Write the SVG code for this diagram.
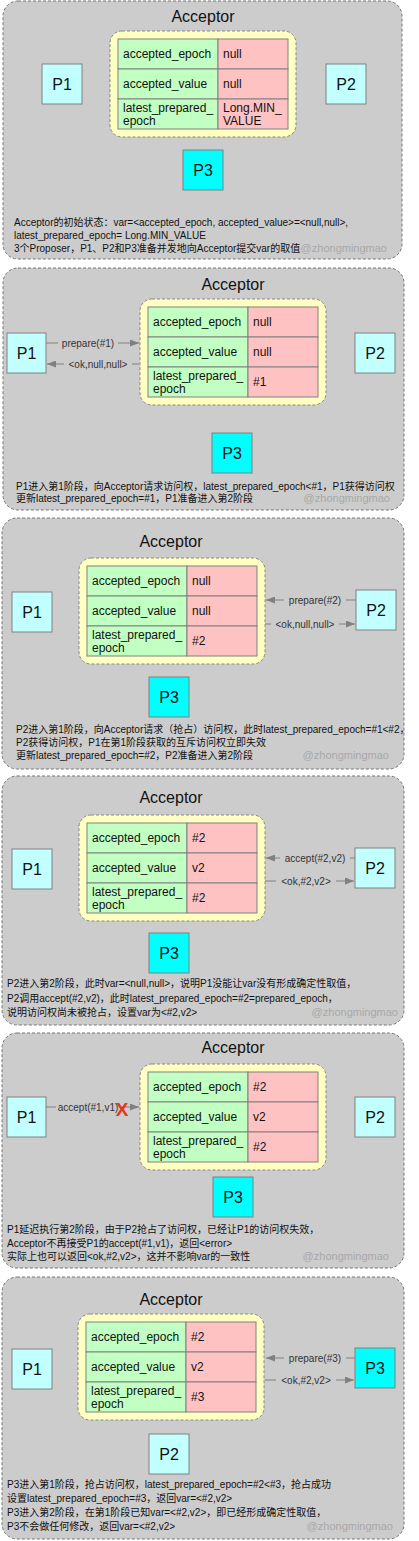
<svg xmlns="http://www.w3.org/2000/svg" width="419" height="1541" viewBox="0 0 419 1541">
<defs>
<style>
.panel{fill:#cccccc;stroke:#777777;stroke-width:1;stroke-dasharray:3,2}
.yel{fill:#ffffc2;stroke:#888888;stroke-width:1;stroke-dasharray:3,2}
.k{fill:#c2ffc2;stroke:#808080;stroke-width:1}
.v{fill:#ffc2c2;stroke:#808080;stroke-width:1}
.pl{fill:#c2ffff;stroke:#808080;stroke-width:1}
.pc{fill:#00ffff;stroke:#808080;stroke-width:1}
text{font-family:"Liberation Sans","Noto Sans CJK SC",sans-serif;fill:#111}
.title{font-size:16px;text-anchor:middle}
.cell{font-size:12px}
.pt{font-size:16px;text-anchor:middle}
.desc{font-size:10px;fill:#111}
.wm{font-size:11px;fill:#a8a8a8;text-anchor:end}
.lbl{font-size:10px;fill:#333;text-anchor:middle}
.ln{stroke:#808080;stroke-width:1;fill:none}
.bg{fill:#cccccc}
.x{font-size:19px;font-weight:bold;fill:#e8341c;text-anchor:middle}
</style>
<marker id="ah" markerWidth="9" markerHeight="7" refX="9" refY="3.5" orient="auto" markerUnits="userSpaceOnUse">
<path d="M0,0 L9,3.5 L0,7 z" fill="#808080"/>
</marker>
</defs>

<!-- Panel 1 -->
<g id="panel1">
<rect class="panel" x="3" y="1" width="399" height="258" rx="15"/>
<text class="title" x="203" y="22">Acceptor</text>
<g id="acc1">
<rect class="yel" x="110" y="31" width="186" height="106" rx="12"/>
<rect class="k" x="118" y="39" width="100" height="30"/><rect class="v" x="218" y="39" width="70" height="30"/>
<rect class="k" x="118" y="69" width="100" height="30"/><rect class="v" x="218" y="69" width="70" height="30"/>
<rect class="k" x="118" y="99" width="100" height="30"/><rect class="v" x="218" y="99" width="70" height="30"/>
<text class="cell" x="123" y="58">accepted_epoch</text><text class="cell" x="223" y="58">null</text>
<text class="cell" x="123" y="88">accepted_value</text><text class="cell" x="223" y="88">null</text>
<text class="cell" x="123" y="112">latest_prepared_</text><text class="cell" x="123" y="125">epoch</text>
<text class="cell" x="223" y="112">Long.MIN_</text><text class="cell" x="223" y="125">VALUE</text>
</g>
<g id="p1a"><rect class="pl" x="42" y="64" width="40" height="40"/><text class="pt" x="62" y="90">P1</text></g>
<g id="p2a"><rect class="pl" x="326" y="64" width="40" height="40"/><text class="pt" x="346" y="90">P2</text></g>
<g id="p3a"><rect class="pc" x="183" y="150" width="40" height="40"/><text class="pt" x="203" y="176">P3</text></g>
<text class="desc" x="14" y="226">Acceptor的初始状态：var=&lt;accepted_epoch, accepted_value&gt;=&lt;null,null&gt;,</text>
<text class="desc" x="14" y="239">latest_prepared_epoch= Long.MIN_VALUE</text>
<text class="desc" x="14" y="252">3个Proposer，P1、P2和P3准备并发地向Acceptor提交var的取值</text>
<text class="wm" x="387" y="252">@zhongmingmao</text>
</g>

<!-- Panel 2 -->
<g id="panel2">
<rect class="panel" x="3" y="268" width="401" height="242" rx="15"/>
<text class="title" x="233" y="290">Acceptor</text>
<g id="acc2">
<rect class="yel" x="140" y="299" width="186" height="106" rx="12"/>
<rect class="k" x="148" y="307" width="100" height="30"/><rect class="v" x="248" y="307" width="70" height="30"/>
<rect class="k" x="148" y="337" width="100" height="30"/><rect class="v" x="248" y="337" width="70" height="30"/>
<rect class="k" x="148" y="367" width="100" height="30"/><rect class="v" x="248" y="367" width="70" height="30"/>
<text class="cell" x="153" y="326">accepted_epoch</text><text class="cell" x="253" y="326">null</text>
<text class="cell" x="153" y="356">accepted_value</text><text class="cell" x="253" y="356">null</text>
<text class="cell" x="153" y="380">latest_prepared_</text><text class="cell" x="153" y="393">epoch</text>
<text class="cell" x="253" y="386">#1</text>
</g>
<g id="p1b"><rect class="pl" x="7" y="333" width="39" height="40"/><text class="pt" x="26.5" y="359">P1</text></g>
<g id="p2b"><rect class="pl" x="355" y="333" width="40" height="40"/><text class="pt" x="375" y="359">P2</text></g>
<g id="p3b"><rect class="pc" x="212" y="433" width="40" height="40"/><text class="pt" x="232" y="459">P3</text></g>
<text class="desc" x="16" y="490">P1进入第1阶段，向Acceptor请求访问权，latest_prepared_epoch&lt;#1，P1获得访问权</text>
<text class="desc" x="16" y="502">更新latest_prepared_epoch=#1，P1准备进入第2阶段</text>
<text class="wm" x="390" y="502">@zhongmingmao</text>
</g>

<!-- Panel 3 -->
<g id="panel3">
<rect class="panel" x="2" y="518" width="402" height="251" rx="15"/>
<text class="title" x="171" y="547">Acceptor</text>
<g id="acc3">
<rect class="yel" x="79" y="558" width="186" height="106" rx="12"/>
<rect class="k" x="87" y="566" width="100" height="30"/><rect class="v" x="187" y="566" width="70" height="30"/>
<rect class="k" x="87" y="596" width="100" height="30"/><rect class="v" x="187" y="596" width="70" height="30"/>
<rect class="k" x="87" y="626" width="100" height="30"/><rect class="v" x="187" y="626" width="70" height="30"/>
<text class="cell" x="92" y="585">accepted_epoch</text><text class="cell" x="192" y="585">null</text>
<text class="cell" x="92" y="615">accepted_value</text><text class="cell" x="192" y="615">null</text>
<text class="cell" x="92" y="639">latest_prepared_</text><text class="cell" x="92" y="652">epoch</text>
<text class="cell" x="192" y="645">#2</text>
</g>
<g id="p1c"><rect class="pl" x="12" y="592" width="40" height="40"/><text class="pt" x="32" y="618">P1</text></g>
<g id="p2c"><rect class="pl" x="356" y="590" width="40" height="40"/><text class="pt" x="376" y="616">P2</text></g>
<g id="p3c"><rect class="pc" x="149" y="677" width="40" height="40"/><text class="pt" x="169" y="703">P3</text></g>
<text class="desc" x="16" y="733">P2进入第1阶段，向Acceptor请求（抢占）访问权，此时latest_prepared_epoch=#1&lt;#2，</text>
<text class="desc" x="16" y="746">P2获得访问权，P1在第1阶段获取的互斥访问权立即失效</text>
<text class="desc" x="16" y="759">更新latest_prepared_epoch=#2，P2准备进入第2阶段</text>
<text class="wm" x="389" y="759">@zhongmingmao</text>
</g>

<!-- Panel 4 -->
<g id="panel4">
<rect class="panel" x="2" y="776" width="402" height="249" rx="15"/>
<text class="title" x="171" y="803">Acceptor</text>
<g id="acc4">
<rect class="yel" x="79" y="815" width="186" height="106" rx="12"/>
<rect class="k" x="87" y="823" width="100" height="30"/><rect class="v" x="187" y="823" width="70" height="30"/>
<rect class="k" x="87" y="853" width="100" height="30"/><rect class="v" x="187" y="853" width="70" height="30"/>
<rect class="k" x="87" y="883" width="100" height="30"/><rect class="v" x="187" y="883" width="70" height="30"/>
<text class="cell" x="92" y="842">accepted_epoch</text><text class="cell" x="192" y="842">#2</text>
<text class="cell" x="92" y="872">accepted_value</text><text class="cell" x="192" y="872">v2</text>
<text class="cell" x="92" y="896">latest_prepared_</text><text class="cell" x="92" y="909">epoch</text>
<text class="cell" x="192" y="902">#2</text>
</g>
<g id="p1d"><rect class="pl" x="12" y="849" width="40" height="40"/><text class="pt" x="32" y="875">P1</text></g>
<g id="p2d"><rect class="pl" x="355" y="848" width="40" height="40"/><text class="pt" x="375" y="874">P2</text></g>
<g id="p3d"><rect class="pc" x="149" y="933" width="40" height="40"/><text class="pt" x="169" y="959">P3</text></g>
<text class="desc" x="7" y="987">P2进入第2阶段，此时var=&lt;null,null&gt;，说明P1没能让var没有形成确定性取值，</text>
<text class="desc" x="7" y="1002">P2调用accept(#2,v2)，此时latest_prepared_epoch=#2=prepared_epoch，</text>
<text class="desc" x="7" y="1016">说明访问权尚未被抢占，设置var为&lt;#2,v2&gt;</text>
<text class="wm" x="398" y="1016">@zhongmingmao</text>
</g>

<!-- Panel 5 -->
<g id="panel5">
<rect class="panel" x="2" y="1033" width="402" height="235" rx="15"/>
<text class="title" x="233" y="1053">Acceptor</text>
<g id="acc5">
<rect class="yel" x="140" y="1064" width="186" height="106" rx="12"/>
<rect class="k" x="148" y="1072" width="100" height="30"/><rect class="v" x="248" y="1072" width="70" height="30"/>
<rect class="k" x="148" y="1102" width="100" height="30"/><rect class="v" x="248" y="1102" width="70" height="30"/>
<rect class="k" x="148" y="1132" width="100" height="30"/><rect class="v" x="248" y="1132" width="70" height="30"/>
<text class="cell" x="153" y="1091">accepted_epoch</text><text class="cell" x="253" y="1091">#2</text>
<text class="cell" x="153" y="1121">accepted_value</text><text class="cell" x="253" y="1121">v2</text>
<text class="cell" x="153" y="1145">latest_prepared_</text><text class="cell" x="153" y="1158">epoch</text>
<text class="cell" x="253" y="1151">#2</text>
</g>
<g id="p1e"><rect class="pl" x="7" y="1097" width="39" height="40"/><text class="pt" x="26.5" y="1123">P1</text></g>
<g id="p2e"><rect class="pl" x="355" y="1097" width="40" height="40"/><text class="pt" x="375" y="1123">P2</text></g>
<g id="p3e"><rect class="pc" x="213" y="1177" width="40" height="40"/><text class="pt" x="233" y="1203">P3</text></g>
<text class="desc" x="7" y="1233">P1延迟执行第2阶段，由于P2抢占了访问权，已经让P1的访问权失效，</text>
<text class="desc" x="7" y="1247">Acceptor不再接受P1的accept(#1,v1)，返回&lt;error&gt;</text>
<text class="desc" x="7" y="1260">实际上也可以返回&lt;ok,#2,v2&gt;，这并不影响var的一致性</text>
<text class="wm" x="389" y="1260">@zhongmingmao</text>
</g>

<!-- Panel 6 -->
<g id="panel6">
<rect class="panel" x="2" y="1277" width="402" height="262" rx="15"/>
<text class="title" x="171" y="1305">Acceptor</text>
<g id="acc6">
<rect class="yel" x="78" y="1314" width="186" height="106" rx="12"/>
<rect class="k" x="86" y="1322" width="100" height="30"/><rect class="v" x="186" y="1322" width="70" height="30"/>
<rect class="k" x="86" y="1352" width="100" height="30"/><rect class="v" x="186" y="1352" width="70" height="30"/>
<rect class="k" x="86" y="1382" width="100" height="30"/><rect class="v" x="186" y="1382" width="70" height="30"/>
<text class="cell" x="91" y="1341">accepted_epoch</text><text class="cell" x="191" y="1341">#2</text>
<text class="cell" x="91" y="1371">accepted_value</text><text class="cell" x="191" y="1371">v2</text>
<text class="cell" x="91" y="1395">latest_prepared_</text><text class="cell" x="91" y="1408">epoch</text>
<text class="cell" x="191" y="1401">#3</text>
</g>
<g id="p1f"><rect class="pl" x="12" y="1349" width="40" height="40"/><text class="pt" x="32" y="1375">P1</text></g>
<g id="p3f"><rect class="pc" x="355" y="1348" width="40" height="40"/><text class="pt" x="375" y="1374">P3</text></g>
<g id="p2f"><rect class="pl" x="149" y="1434" width="40" height="40"/><text class="pt" x="169" y="1460">P2</text></g>
<text class="desc" x="7" y="1488">P3进入第1阶段，抢占访问权，latest_prepared_epoch=#2&lt;#3，抢占成功</text>
<text class="desc" x="7" y="1502">设置latest_prepared_epoch=#3，返回var=&lt;#2,v2&gt;</text>
<text class="desc" x="7" y="1516">P3进入第2阶段，在第1阶段已知var=&lt;#2,v2&gt;，即已经形成确定性取值，</text>
<text class="desc" x="7" y="1530">P3不会做任何修改，返回var=&lt;#2,v2&gt;</text>
<text class="wm" x="393" y="1530">@zhongmingmao</text>
</g>

<!-- Connectors -->
<g id="connectors">
<line class="ln" x1="46" y1="343" x2="139" y2="343" marker-end="url(#ah)"/>
<rect class="bg" x="58" y="337" width="60" height="12"/>
<text class="lbl" x="88" y="346.5">prepare(#1)</text>
<line class="ln" x1="139" y1="364" x2="47" y2="364" marker-end="url(#ah)"/>
<rect class="bg" x="64" y="358" width="68" height="12"/>
<text class="lbl" x="98" y="367.5">&lt;ok,null,null&gt;</text>

<line class="ln" x1="356" y1="600" x2="266" y2="600" marker-end="url(#ah)"/>
<rect class="bg" x="284" y="594" width="62" height="12"/>
<text class="lbl" x="315" y="603.5">prepare(#2)</text>
<line class="ln" x1="265" y1="624" x2="355" y2="624" marker-end="url(#ah)"/>
<rect class="bg" x="271" y="618" width="68" height="12"/>
<text class="lbl" x="305" y="627.5">&lt;ok,null,null&gt;</text>

<line class="ln" x1="355" y1="858" x2="266" y2="858" marker-end="url(#ah)"/>
<rect class="bg" x="280" y="852" width="70" height="12"/>
<text class="lbl" x="315" y="861.5">accept(#2,v2)</text>
<line class="ln" x1="265" y1="881" x2="354" y2="881" marker-end="url(#ah)"/>
<rect class="bg" x="276" y="875" width="60" height="12"/>
<text class="lbl" x="306" y="884.5">&lt;ok,#2,v2&gt;</text>

<line class="ln" x1="46" y1="1107" x2="139" y2="1107" marker-end="url(#ah)"/>
<rect class="bg" x="56" y="1101" width="64" height="12"/>
<text class="lbl" x="88" y="1110.5">accept(#1,v1)</text>
<text class="x" x="122" y="1116">X</text>

<line class="ln" x1="355" y1="1358" x2="266" y2="1358" marker-end="url(#ah)"/>
<rect class="bg" x="284" y="1352" width="62" height="12"/>
<text class="lbl" x="315" y="1361.5">prepare(#3)</text>
<line class="ln" x1="265" y1="1380" x2="354" y2="1380" marker-end="url(#ah)"/>
<rect class="bg" x="276" y="1374" width="60" height="12"/>
<text class="lbl" x="306" y="1383.5">&lt;ok,#2,v2&gt;</text>
</g>
</svg>
